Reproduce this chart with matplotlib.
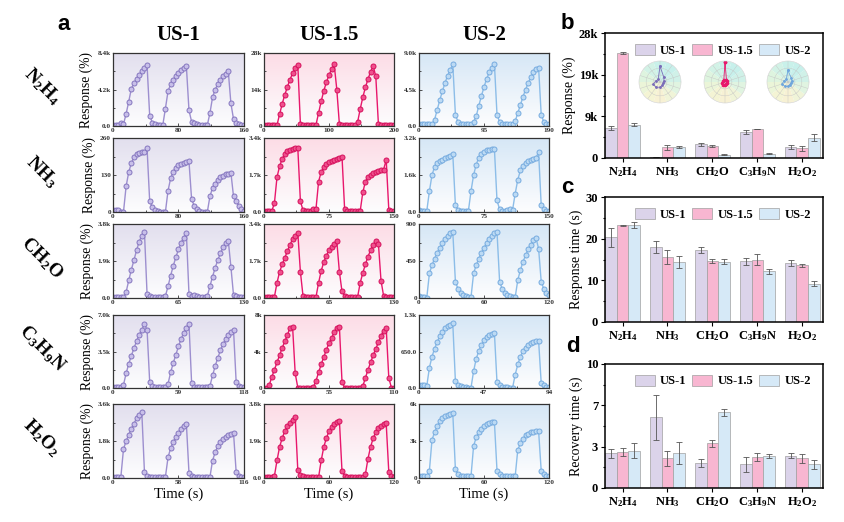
import numpy as np
import matplotlib
matplotlib.use('Agg')
import matplotlib.pyplot as plt
from matplotlib.colors import LinearSegmentedColormap

plt.rcParams['font.family'] = ['Liberation Serif', 'DejaVu Serif']
plt.rcParams['font.weight'] = 'bold'
plt.rcParams['mathtext.fontset'] = 'custom'
plt.rcParams['mathtext.rm'] = 'Liberation Serif:bold'
plt.rcParams['mathtext.it'] = 'Liberation Serif:bold'
plt.rcParams['mathtext.bf'] = 'Liberation Serif:bold'

# ---------------- data ----------------
samples = ['US-1', 'US-1.5', 'US-2']
gases = ['N2H4', 'NH3', 'CH2O', 'C3H9N', 'H2O2']
gas_labels = ['N$_2$H$_4$', 'NH$_3$', 'CH$_2$O', 'C$_3$H$_9$N', 'H$_2$O$_2$']

# response curves, 51 evenly spaced samples over each panel's time axis
# (values in k unless noted)
n2h4_us1 = [0.1, 0.1, 0.1, 0.3, 0.2, 1.4, 2.8, 4.3, 4.9, 5.4, 5.9, 6.3, 6.7, 7.0, 1.2, 0.4, 0.2,
            0.1, 0.1, 0.1, 2.0, 4.0, 4.8, 5.3, 5.8, 6.1, 6.4, 6.7, 6.9, 1.8, 0.5, 0.3, 0.2, 0.1,
            0.1, 0.1, 0.1, 1.5, 3.3, 4.2, 4.8, 5.3, 5.7, 6.0, 6.3, 2.6, 0.8, 0.4, 0.25, 0.15, 0.1]
n2h4_us15 = [0.3, 0.3, 0.3, 0.3, 0.3, 0.4, 4.5, 8.5, 12.0, 15.0, 17.8, 20.2, 22.2, 23.5, 0.8, 0.4,
             0.3, 0.3, 0.3, 0.3, 0.5, 5.0, 9.5, 13.5, 16.8, 19.5, 21.8, 23.6, 14.0, 0.6, 0.3, 0.3,
             0.3, 0.3, 0.3, 0.3, 1.5, 6.5, 11.0, 14.8, 18.0, 20.8, 23.0, 19.0, 0.8, 0.4, 0.3, 0.3,
             0.3, 0.3, 0.3]
n2h4_us2 = [0.3, 0.25, 0.2, 0.2, 0.2, 0.2, 0.8, 2.0, 3.2, 4.3, 5.3, 6.2, 6.9, 7.6, 1.4, 0.5, 0.3,
            0.25, 0.2, 0.2, 0.3, 0.5, 1.2, 2.5, 3.7, 4.8, 5.8, 6.6, 7.2, 7.7, 1.4, 0.5, 0.3, 0.25,
            0.2, 0.2, 0.2, 0.6, 1.6, 2.6, 3.6, 4.5, 5.3, 6.0, 6.6, 7.0, 7.2, 1.4, 0.5, 0.3, 0.3]
nh3_us1 = [8, 8, 6, 0, 0, 90, 140, 172, 192, 203, 208, 210, 212, 224, 38, 18, 8, 3, 0, 0, 0, 75,
           118, 142, 156, 165, 170, 173, 175, 178, 45, 22, 10, 4, 0, 0, 0, 55, 85, 100, 112, 122,
           128, 132, 135, 138, 55, 38, 22, 10, 5]  # raw %
nh3_us15 = [0.05, 0.05, 0.05, 0.05, 0.4, 1.6, 2.1, 2.45, 2.65, 2.78, 2.85, 2.9, 2.92, 2.94, 0.5,
            0.08, 0.05, 0.05, 0.05, 0.15, 0.15, 1.4, 1.85, 2.05, 2.2, 2.3, 2.36, 2.4, 2.43, 2.46,
            2.55, 0.15, 0.05, 0.05, 0.05, 0.05, 0.05, 0.05, 0.9, 1.4, 1.6, 1.72, 1.8, 1.86, 1.9,
            1.93, 1.95, 2.4, 0.1, 0.05, 0.05]
nh3_us2 = [0.1, 0.05, 0.05, 0.05, 0.9, 1.6, 1.95, 2.1, 2.2, 2.27, 2.32, 2.37, 2.42, 2.5, 0.3, 0.1,
           0.05, 0.05, 0.05, 0.05, 0.9, 1.6, 2.05, 2.35, 2.5, 2.6, 2.66, 2.7, 2.72, 2.74, 0.5, 0.12,
           0.05, 0.05, 0.1, 0.15, 0.1, 0.8, 1.4, 1.8, 2.0, 2.12, 2.2, 2.25, 2.3, 2.35, 2.58, 0.3,
           0.12, 0.05, 0.05]
ch2o_us1 = [0.05, 0.05, 0.05, 0.05, 0.05, 0.3, 0.9, 1.45, 1.95, 2.45, 2.9, 3.2, 3.4, 0.2, 0.08,
            0.05, 0.05, 0.05, 0.05, 0.05, 0.1, 0.6, 1.15, 1.65, 2.1, 2.5, 2.85, 3.1, 3.35, 0.2,
            0.08, 0.15, 0.1, 0.05, 0.05, 0.05, 0.1, 0.6, 1.1, 1.55, 1.95, 2.3, 2.6, 2.8, 2.95, 1.6,
            0.15, 0.08, 0.05, 0.05, 0.05]
ch2o_us15 = [0.05, 0.05, 0.05, 0.05, 0.05, 0.7, 1.2, 1.55, 1.85, 2.15, 2.45, 2.7, 2.85, 3.0, 1.2,
             0.1, 0.05, 0.05, 0.05, 0.05, 0.05, 0.7, 1.25, 1.65, 1.95, 2.2, 2.35, 2.5, 2.6, 1.2,
             0.3, 0.1, 0.05, 0.05, 0.05, 0.05, 0.05, 0.7, 1.15, 1.55, 1.9, 2.2, 2.45, 2.6, 2.5,
             0.8, 0.1, 0.05, 0.05, 0.05, 0.05]
ch2o_us2 = [20, 15, 10, 5, 300, 400, 480, 550, 610, 670, 720, 760, 790, 805, 200, 110, 65, 40, 25,
            15, 10, 300, 400, 480, 550, 610, 670, 720, 760, 790, 805, 200, 110, 65, 40, 25, 15, 10,
            220, 340, 440, 520, 590, 650, 700, 730, 600, 200, 110, 60, 35]  # raw %
c3h9n_us1 = [0.05, 0.05, 0.05, 0.05, 0.3, 1.4, 2.3, 3.1, 3.8, 4.5, 5.1, 5.6, 6.1, 5.6, 0.6, 0.15,
             0.08, 0.05, 0.05, 0.05, 0.05, 0.4, 1.5, 2.4, 3.2, 4.0, 4.7, 5.3, 5.8, 6.15, 0.5, 0.12,
             0.05, 0.05, 0.05, 0.05, 0.05, 0.2, 1.2, 2.1, 2.9, 3.6, 4.2, 4.7, 5.1, 5.4, 5.6, 0.6,
             0.15, 0.08, 0.05]
c3h9n_us15 = [0.05, 0.05, 0.3, 1.2, 2.0, 2.8, 3.6, 4.4, 5.1, 5.8, 6.6, 6.7, 1.6, 0.05, 0.05, 0.05,
              0.05, 0.05, 0.05, 0.1, 0.8, 1.7, 2.6, 3.4, 4.2, 4.9, 5.5, 6.1, 6.6, 6.7, 0.7, 0.05,
              0.05, 0.05, 0.05, 0.05, 0.05, 0.05, 0.2, 1.1, 2.0, 2.8, 3.6, 4.3, 5.0, 5.7, 6.3, 6.6,
              1.1, 0.05, 0.05]
c3h9n_us2 = [50, 50, 50, 40, 360, 560, 700, 820, 920, 1000, 1060, 1100, 1130, 1150, 120, 60, 30,
             15, 10, 5, 5, 300, 520, 660, 770, 850, 900, 940, 965, 985, 100, 50, 25, 15, 10, 5, 5,
             240, 420, 560, 660, 720, 765, 795, 815, 830, 840, 90, 45, 25, 15]  # raw %
h2o2_us1 = [0.05, 0.05, 0.05, 0.05, 1.4, 1.8, 2.1, 2.4, 2.65, 2.9, 3.05, 3.2, 0.3, 0.1, 0.05, 0.05,
            0.05, 0.05, 0.05, 0.05, 0.05, 1.0, 1.45, 1.75, 2.0, 2.2, 2.4, 2.55, 2.65, 0.25, 0.08,
            0.05, 0.05, 0.05, 0.05, 0.05, 0.05, 0.05, 0.85, 1.25, 1.55, 1.75, 1.9, 2.0, 2.1, 2.15,
            2.2, 0.3, 0.1, 0.05, 0.05]
h2o2_us15 = [0.05, 0.05, 0.05, 0.05, 0.1, 0.9, 1.6, 2.05, 2.4, 2.65, 2.85, 3.0, 3.15, 0.4, 0.15,
             0.08, 0.05, 0.05, 0.05, 0.05, 0.05, 0.05, 0.9, 1.6, 2.05, 2.4, 2.6, 2.75, 2.87, 2.95,
             0.35, 0.12, 0.06, 0.05, 0.05, 0.05, 0.05, 0.05, 0.05, 0.2, 1.0, 1.6, 2.05, 2.35, 2.55,
             2.68, 2.75, 2.8, 0.3, 0.1, 0.05]
h2o2_us2 = [0.15, 0.15, 0.15, 0.15, 0.6, 3.1, 3.7, 4.2, 4.6, 4.85, 5.0, 5.1, 5.2, 5.25, 0.7, 0.3,
            0.2, 0.15, 0.15, 0.15, 0.15, 2.6, 3.3, 3.7, 4.0, 4.2, 4.35, 4.45, 4.52, 4.55, 0.6, 0.3,
            0.2, 0.15, 0.15, 0.15, 0.15, 0.15, 2.3, 2.8, 3.2, 3.45, 3.6, 3.7, 3.75, 3.78, 3.8, 0.6,
            0.3, 0.2, 0.15]

curves = [[n2h4_us1, n2h4_us15, n2h4_us2],
          [nh3_us1, nh3_us15, nh3_us2],
          [ch2o_us1, ch2o_us15, ch2o_us2],
          [c3h9n_us1, c3h9n_us15, c3h9n_us2],
          [h2o2_us1, h2o2_us15, h2o2_us2]]
units = [[1000, 1000, 1000], [1, 1000, 1000], [1000, 1000, 1], [1000, 1000, 1], [1000, 1000, 1000]]
x_max = [[160, 200, 190], [160, 150, 150], [130, 130, 120], [118, 110, 94], [116, 120, 120]]
x_ticklabels = [[['0', '80', '160'], ['0', '100', '200'], ['0', '95', '190']],
                [['0', '80', '160'], ['0', '75', '150'], ['0', '75', '150']],
                [['0', '65', '130'], ['0', '65', '130'], ['0', '60', '120']],
                [['0', '59', '118'], ['0', '55', '110'], ['0', '47', '94']],
                [['0', '58', '116'], ['0', '60', '120'], ['0', '60', '120']]]
y_top = [[8400, 28000, 9000], [260, 3400, 3200], [3800, 3400, 900], [7000, 8000, 1300],
         [3600, 3800, 6000]]
y_ticklabels = [[['0.0', '4.2k', '8.4k'], ['0', '14k', '28k'], ['0.0', '4.5k', '9.0k']],
                [['0', '130', '260'], ['0.0', '1.7k', '3.4k'], ['0.0', '1.6k', '3.2k']],
                [['0.0', '1.9k', '3.8k'], ['0.0', '1.7k', '3.4k'], ['0', '450', '900']],
                [['0.0', '3.5k', '7.0k'], ['0', '4k', '8k'], ['0.0', '650.0', '1.3k']],
                [['0.0', '1.8k', '3.6k'], ['0.0', '1.9k', '3.8k'], ['0', '3k', '6k']]]

# bar panels
resp_val = [[6700, 200, 3100, 5800, 2500],
            [23500, 2400, 2700, 6500, 2200],
            [7500, 2500, 750, 1000, 4500]]
resp_err = [[500, 50, 300, 400, 500],
            [150, 500, 200, 100, 600],
            [400, 200, 100, 150, 800]]
rtime_val = [[20.3, 18.0, 17.3, 14.6, 14.2],
             [23.2, 15.6, 14.7, 15.0, 13.6],
             [23.2, 14.4, 14.5, 12.2, 9.2]]
rtime_err = [[2.3, 1.4, 0.7, 0.8, 0.7],
             [0.2, 1.6, 0.5, 1.3, 0.3],
             [0.7, 1.5, 0.6, 0.6, 0.6]]
rec_val = [[2.8, 5.7, 2.0, 1.9, 2.6],
           [2.9, 2.4, 3.6, 2.5, 2.4],
           [3.0, 2.8, 6.1, 2.6, 1.9]]
rec_err = [[0.35, 1.8, 0.3, 0.6, 0.2],
           [0.35, 0.6, 0.3, 0.35, 0.35],
           [0.6, 0.9, 0.3, 0.15, 0.35]]

# radar insets (selectivity fingerprints, 10 spokes, relative)
radar_vals = [[0.75, 0.15, 0.2, 0.35, 0.3, 0.25, 0.2, 0.15, 0.2, 0.3],
              [0.95, 0.1, 0.12, 0.15, 0.2, 0.15, 0.1, 0.1, 0.1, 0.12],
              [0.55, 0.15, 0.2, 0.3, 0.25, 0.2, 0.15, 0.15, 0.2, 0.25]]

# ---------------- style ----------------
bg_top = ['#e2dfee', '#fcdce6', '#d6e7f6']
line_c = ['#9d8fcf', '#e8176c', '#8cbde8']
face_c = ['#c8bfe9', '#f0508d', '#bcdaf4']
edge_c = ['#8576bf', '#d5105c', '#76abdf']
bar_c = ['#dbd3ea', '#f8b6d1', '#d6e9f7']
frame_c = '#333333'

W, H = 845, 522
fig = plt.figure(figsize=(W / 100, H / 100), dpi=100)


def px_axes(x0, y0, x1, y1, **kw):
    return fig.add_axes([x0 / W, 1 - y1 / H, (x1 - x0) / W, (y1 - y0) / H], **kw)


col_x = [(113, 244), (264, 394), (419, 549)]
row_y = [(53, 126), (138, 212), (224, 298), (315, 388), (404, 478)]

for r in range(5):
    for c in range(3):
        ax = px_axes(col_x[c][0], row_y[r][0], col_x[c][1], row_y[r][1])
        xm, yt = x_max[r][c], y_top[r][c]
        y = np.array(curves[r][c]) * units[r][c]
        t = np.linspace(0, xm, len(y))
        cmap = LinearSegmentedColormap.from_list('bg', ['#fdfdfe', bg_top[c]])
        ax.imshow(np.linspace(1, 0, 100).reshape(-1, 1), extent=[0, xm, 0, yt], aspect='auto',
                  cmap=cmap, vmin=0, vmax=1, zorder=0)
        ax.plot(t, y, '-o', color=line_c[c], lw=1.0, ms=3.6, mfc=face_c[c], mec=edge_c[c],
                mew=0.7, zorder=2)
        ax.set_xlim(0, xm)
        ax.set_ylim(0, yt)
        ax.set_xticks([0, xm / 2, xm])
        ax.set_xticklabels(x_ticklabels[r][c])
        ax.set_yticks([0, yt / 2, yt])
        ax.set_yticklabels(y_ticklabels[r][c])
        ax.set_xticks([xm / 4, 3 * xm / 4], minor=True)
        ax.set_yticks([yt / 4, 3 * yt / 4], minor=True)
        ax.tick_params(which='both', direction='in', labelsize=5.2, pad=1.5, width=0.6,
                       colors=frame_c)
        ax.tick_params(which='major', length=2.2)
        ax.tick_params(which='minor', length=1.2)
        for s in ax.spines.values():
            s.set_color(frame_c)
            s.set_linewidth(0.9)
        if c == 0:
            ax.set_ylabel('Response (%)', fontsize=9.8, labelpad=3)
        if r == 4:
            ax.set_xlabel('Time (s)', fontsize=10.5, labelpad=2)

# column titles, row labels
for c, name in enumerate(samples):
    fig.text((col_x[c][0] + col_x[c][1]) / 2 / W, 1 - 35 / H, name, fontsize=15,
             ha='center', va='center')
for r, lab in enumerate(gas_labels):
    yc = (row_y[r][0] + row_y[r][1]) / 2
    fig.text(42 / W, 1 - (yc - 3) / H, lab, fontsize=13.5, rotation=-45, ha='center',
             va='center')

# panel letters
for letter, (lx, ly) in zip('abcd', [(64, 25), (567, 24), (567, 188), (573, 347)]):
    fig.text(lx / W, 1 - ly / H, letter, fontsize=16, fontweight='bold',
             family='Liberation Sans', ha='center', va='center')

# ---------------- bar panels ----------------
bar_boxes = [(605, 33, 823, 158), (605, 197, 823, 322), (605, 364, 823, 488)]
bar_sets = [(resp_val, resp_err, 'Response (%)', 28000,
             [0, 28000 / 3, 2 * 28000 / 3, 28000], ['0', '9k', '19k', '28k']),
            (rtime_val, rtime_err, 'Response time (s)', 30,
             [0, 10, 20, 30], ['0', '10', '20', '30']),
            (rec_val, rec_err, 'Recovery time (s)', 10,
             [0, 10 / 3, 20 / 3, 10], ['0', '3', '7', '10'])]
xg = np.arange(len(gases))
bw = 0.26
for (x0, y0, x1, y1), (vals, errs, ylab, ytop, yt, ytl) in zip(bar_boxes, bar_sets):
    ax = px_axes(x0, y0, x1, y1)
    handles = []
    for k in range(3):
        h = ax.bar(xg + (k - 1) * bw, vals[k], bw, yerr=errs[k], color=bar_c[k],
                   edgecolor='#a0a0a0', linewidth=0.5,
                   error_kw=dict(ecolor='#555555', elinewidth=0.6, capsize=2, capthick=0.6))
        handles.append(h)
    ax.set_xlim(-0.39, 4.46)
    ax.set_ylim(0, ytop)
    ax.set_yticks(yt)
    ax.set_yticklabels(ytl)
    ax.set_yticks([(yt[i] + yt[i + 1]) / 2 for i in range(3)], minor=True)
    ax.set_xticks(xg)
    ax.set_xticklabels(gas_labels)
    ax.tick_params(which='both', direction='out', labelsize=9, pad=2, width=0.8)
    ax.tick_params(which='major', length=3)
    ax.tick_params(which='minor', length=1.8)
    ax.set_ylabel(ylab, fontsize=10, labelpad=2)
    for s in ax.spines.values():
        s.set_linewidth(1.1)
    ax.legend(handles, samples, ncol=3, loc='upper right', bbox_to_anchor=(0.985, 0.985),
              frameon=False, fontsize=9, handlelength=1.6, handleheight=1.0,
              columnspacing=0.5, handletextpad=0.4, borderaxespad=0.3)

# radar insets in panel b
n_sp = len(radar_vals[0])
ang = (np.linspace(0, 2 * np.pi, n_sp, endpoint=False) + np.pi / 2) % (2 * np.pi)
sector_c = ['#c9f1ea', '#d2f2e6', '#def4df', '#ebf5d8', '#f4f4d4', '#f7f1d4',
            '#f0f4d8', '#e0f4e1', '#d0f1e8', '#c7f0eb']
radar_line = ['#7a6cb8', '#e8176c', '#6fa6dc']
for k, cx in enumerate([660, 725, 788]):
    rax = px_axes(cx - 21, 61, cx + 21, 103, projection='polar')
    rax.set_facecolor('none')
    for i in range(n_sp):
        th = np.linspace(ang[i] - np.pi / n_sp, ang[i] + np.pi / n_sp, 8)
        rax.fill(np.r_[0, th, 0], np.r_[0, np.ones(8), 0], color=sector_c[i], lw=0, zorder=0)
    vv = radar_vals[k] + radar_vals[k][:1]
    aa = np.r_[ang, ang[:1]]
    rax.plot(aa, vv, color=radar_line[k], lw=0.6, marker='o', ms=1.0 if k != 1 else 1.6)
    rax.set_xlim(0, 2 * np.pi)
    rax.set_ylim(0, 1)
    rax.set_xticks(ang)
    rax.set_xticklabels([])
    rax.set_yticks([0.33, 0.66])
    rax.set_yticklabels([])
    rax.grid(color='#c4c4c4', lw=0.3)
    rax.spines['polar'].set_color('#d0d0d0')
    rax.spines['polar'].set_linewidth(0.4)

fig.savefig('out.png', dpi=100)
